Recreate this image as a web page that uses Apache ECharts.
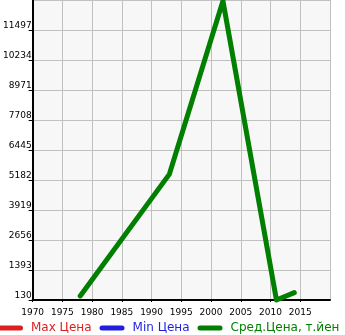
<!DOCTYPE html>
<html>
<head>
<meta charset="utf-8">
<script src="https://cdn.jsdelivr.net/npm/echarts@6/dist/echarts.min.js"></script>
<style>
html,body{margin:0;padding:0;background:#fff;overflow:hidden;}
#c{width:345px;height:335px;}
</style>
</head>
<body>
<div id="c"></div>
<script>
var seriesNames = ['Max Цена', 'Min Цена', 'Сред.Цена, т.йен'];
var seriesColors = ['#dd1f1f', '#1f1fdd', '#007f00'];
var years = [1978, 1993, 2002, 2011, 2014];
var avgPrice = [300, 5430, 12720, 130, 440];
var maxPrice = [];
var minPrice = [];
var yMin = 130, yStep = 1263, yMax = 12760;
var xMin = 1970, xStep = 5, xMax = 2020;

var avgData = years.map(function (y, i) { return [y, avgPrice[i]]; });
var capsule = 'path://M2.5,0 H22.5 A2.5,2.5 0 0 1 22.5,5 H2.5 A2.5,2.5 0 0 1 2.5,0 Z';
var font = 'DejaVu Sans';

var chart = echarts.init(document.getElementById('c'), null, {renderer: 'canvas'});
chart.setOption({
  animation: false,
  textStyle: {fontFamily: font},
  grid: {left: 31, right: 15, top: 0, bottom: 35, show: true, backgroundColor: '#f7f7f7', borderWidth: 0},
  legend: {
    left: -2, top: 322, width: 800, orient: 'horizontal', padding: 0,
    itemWidth: 25, itemHeight: 5, itemGap: 8, icon: capsule,
    data: seriesNames.map(function (n, i) {
      return {name: n, textStyle: {color: seriesColors[i]}};
    }),
    textStyle: {fontFamily: font, fontSize: 12, padding: [0, 0, 0, 3]}
  },
  xAxis: {
    type: 'value', min: xMin, max: xMax, interval: xStep,
    axisLine: {show: true, lineStyle: {color: '#000', width: 2}},
    axisTick: {show: true, length: 2, lineStyle: {color: '#000'}},
    axisLabel: {color: '#000', fontSize: 9, fontFamily: font, margin: 8, showMaxLabel: false,
      formatter: function (v) { return String(v); }},
    splitLine: {show: true, lineStyle: {color: '#c0c0c0', width: 1}}
  },
  yAxis: {
    type: 'value', min: yMin, max: yMax, interval: yStep,
    axisLine: {show: true, lineStyle: {color: '#000', width: 2}},
    axisTick: {show: true, length: 4, lineStyle: {color: '#000'}},
    axisLabel: {color: '#000', fontSize: 9, fontFamily: font, margin: 1, showMaxLabel: false,
      verticalAlign: 'bottom', lineHeight: 8,
      formatter: function (v) { return String(Math.round(v)); }},
    splitLine: {show: true, lineStyle: {color: '#c0c0c0', width: 1}}
  },
  series: [
    {name: seriesNames[0], type: 'line', data: maxPrice, color: seriesColors[0], showSymbol: false,
      lineStyle: {width: 5}},
    {name: seriesNames[1], type: 'line', data: minPrice, color: seriesColors[1], showSymbol: false,
      lineStyle: {width: 5}},
    {name: seriesNames[2], type: 'line', data: avgData, color: seriesColors[2], showSymbol: false,
      lineStyle: {width: 5, cap: 'round', join: 'round'}, clip: false, z: 5}
  ]
});
</script>
</body>
</html>
